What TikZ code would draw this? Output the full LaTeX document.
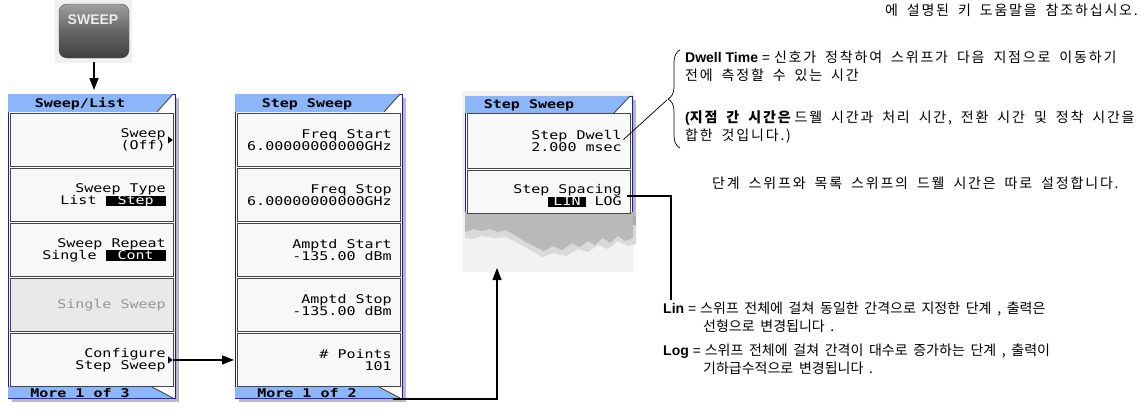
\documentclass[tikz,border=0pt]{standalone}
\usepackage{fontspec}
\setmainfont{Liberation Sans}
\newfontfamily\kr[WordSpace=1.8]{Noto Sans CJK KR}
\newfontfamily\krw[WordSpace=1.8, LetterSpace=13]{Noto Sans CJK KR}
\newfontfamily\lcd[FakeStretch=1.25]{DejaVu Sans Mono}
\usetikzlibrary{arrows.meta, shadows, shapes.geometric, decorations.pathreplacing, positioning}

\definecolor{tabblue}{RGB}{140,182,250}
\definecolor{rimblue}{RGB}{20,20,235}
\definecolor{keyfill}{RGB}{248,248,248}
\definecolor{keyrim}{RGB}{70,70,70}
\definecolor{dimkey}{RGB}{233,233,233}
\definecolor{dimtext}{RGB}{150,150,150}

\newcommand\hilite[2][5pt]{{\setlength\fboxsep{0pt}\colorbox{black}{\rule[-1.5pt]{0pt}{10.5pt}\hspace{#1}\smash{\textcolor{white}{#2}}\hspace{#1}}}}

\begin{document}
\begin{tikzpicture}[x=1pt, y=-1pt,
	panel/.style={draw=rimblue, fill=white, line width=0.8pt, anchor=north west, inner sep=0pt, minimum width=167pt,
		drop shadow={shadow xshift=4pt, shadow yshift=-4pt, fill=black!45, opacity=0.6}},
	softkey/.style={draw=keyrim, fill=keyfill, line width=0.9pt, anchor=north west, inner sep=0pt, minimum width=163pt},
	keytext/.style={anchor=east, align=right, inner sep=0pt, font=\lcd\fontsize{12}{12}\selectfont},
	tabtext/.style={inner sep=0pt, font=\lcd\bfseries\fontsize{12}{12}\selectfont},
	keymark/.style={isosceles triangle, fill=black, inner sep=0pt, minimum height=4.5pt, minimum width=7pt, isosceles triangle stretches},
	arr/.style={line width=1.4pt, -{Triangle[length=12pt,width=9pt]}},
	note/.style={anchor=west, align=left, inner sep=0pt, font=\fontsize{14}{18}\selectfont}]
	\useasboundingbox (0,0) rectangle (1148,413);

	% hard key
	\fill[gray!12] (55,0) rectangle (132,63);
	\node[draw=black!70, rounded corners=8pt, top color=gray!75, bottom color=black!75, middle color=black!60,
		minimum width=70pt, minimum height=54pt] (sweepbtn) at (94,31) {};
	\node[text=white!85!gray, font=\bfseries\fontsize{14}{14}\selectfont] (sweeplbl) at (93,20) {SWEEP};

	% softkey menus
	\foreach \px/\nm in {8/p1, 235/p2} {
		\node[panel, minimum height=304pt] (\nm) at (\px,94) {};
		\fill[tabblue] (\px,94) -- ++(165,0) -- ++(-16,18) -- (\px,112) -- cycle;
		\draw[keyrim, line width=0.9pt] (\px+149,112) -- ++(16,-18);
		\foreach \k/\y in {1/113, 2/168, 3/223, 4/278, 5/333}
			\node[softkey, minimum height=53pt] (\nm k\k) at (\px+2,\y) {};
		\fill[tabblue] (\px,387) -- ++(144,0) -- ++(21,11) -- (\px,398) -- cycle;
		\draw[keyrim, line width=0.9pt] (\px+144,387) -- ++(21,11);
	}
	\node[softkey, fill=dimkey, minimum height=53pt] at (10,278) {};

	\node[tabtext] (p1title) at (80,104) {Sweep/List};
	\node[tabtext] (p1more) at (80,393) {More 1 of 3};
	\node[keytext] (sweepkey) at ([xshift=-8pt]p1k1.east) {Sweep\\(Off)};
	\node[keymark] (sweepmark) at ([xshift=-4pt]p1k1.east) {};
	\node[keytext] (typekey) at ([xshift=-8pt]p1k2.east) {Sweep Type\\List \hilite[12pt]{Step}};
	\node[keytext] (repeatkey) at ([xshift=-8pt]p1k3.east) {Sweep Repeat\\Single \hilite[12pt]{Cont}};
	\node[keytext, text=dimtext] (singlekey) at ([xshift=-8pt]p1k4.east) {Single Sweep};
	\node[keytext] (cfgkey) at ([xshift=-8pt]p1k5.east) {Configure\\Step Sweep};
	\node[keymark] (cfgmark) at ([xshift=-4pt]p1k5.east) {};

	\node[tabtext] (p2title) at (307,104) {Step Sweep};
	\node[tabtext] (p2more) at (307,393) {More 1 of 2};
	\node[keytext] (fstartkey) at ([xshift=-9pt]p2k1.east) {Freq Start\\6.00000000000GHz};
	\node[keytext] (fstopkey) at ([xshift=-9pt]p2k2.east) {Freq Stop\\6.00000000000GHz};
	\node[keytext] (astartkey) at ([xshift=-9pt]p2k3.east) {Amptd Start\\-135.00 dBm};
	\node[keytext] (astopkey) at ([xshift=-9pt]p2k4.east) {Amptd Stop\\-135.00 dBm};
	\node[keytext] (pointskey) at ([xshift=-9pt]p2k5.east) {\# Points\\101};

	% torn step sweep menu
	\fill[gray!10] (462,91) rectangle (634,272);
	\fill[gray!30] (465,216) -- (636,216) -- (636,244) -- (628,246) -- (618,241) -- (608,249) -- (598,245) -- (588,252)
		-- (578,249) -- (566,256) -- (554,253) -- (542,257) -- (530,250) -- (518,243) -- (506,237) -- (494,238)
		-- (482,236) -- (472,239) -- (465,238) -- cycle;
	\node[panel, minimum height=125pt] (p3) at (465,96) {};
	\fill[gray!55] (465,212) -- (633,212) -- (633,238) -- (625,241) -- (618,236) -- (610,243) -- (603,238) -- (595,245)
		-- (588,241) -- (580,247) -- (572,243) -- (562,250) -- (553,246) -- (544,251) -- (536,247) -- (526,242)
		-- (516,236) -- (506,230) -- (498,232) -- (490,229) -- (482,231) -- (474,229) -- (465,232) -- cycle;
	\fill[tabblue] (465,96) -- ++(165,0) -- ++(-16,17) -- (465,113) -- cycle;
	\draw[keyrim, line width=0.9pt] (614,113) -- ++(16,-17);
	\node[softkey, minimum height=55pt] (p3k1) at (467,113) {};
	\node[softkey, minimum height=43pt] (p3k2) at (467,170) {};
	\node[tabtext] (p3title) at (529,105) {Step Sweep};
	\node[keytext] (dwellkey) at ([xshift=-9pt]p3k1.east) {Step Dwell\\2.000 msec};
	\node[keytext] (spacingkey) at ([xshift=-9pt, yshift=-4pt]p3k2.east) {Step Spacing\\\hilite{LIN} LOG};

	% notes
	\node[note, anchor=base east] (helpnote) at (1138,15) {\krw 에 설명된 키 도움말을 참조하십시오.};
	\node[note] (dwell) at (685,66) {{\bfseries Dwell Time} = {\krw 신호가 정착하여 스위프가 다음 지점으로 이동하기}\\{\krw 전에 측정할 수 있는 시간}};
	\node[note] (pointtime) at (685,127) {{\bfseries(\krw 지점 간 시간은} {\krw 드웰 시간과 처리 시간, 전환 시간 및 정착 시간을}\\{\krw 합한 것입니다.)}};
	\node[note] (sepnote) at (712,183) {\krw 단계 스위프와 목록 스위프의 드웰 시간은 따로 설정합니다.};
	\node[note] (lin) at (663,317) {{\bfseries Lin} = {\kr 스위프 전체에 걸쳐 동일한 간격으로 지정한 단계 , 출력은}\\\hspace*{40pt}{\kr 선형으로 변경됩니다 .}};
	\node[note] (log) at (663,359) {{\bfseries Log} = {\kr 스위프 전체에 걸쳐 간격이 대수로 증가하는 단계 , 출력이}\\\hspace*{40pt}{\kr 기하급수적으로 변경됩니다 .}};

	\coordinate (bracetip) at (667,100);
	\coordinate (tornfoot) at (497,268);
	\draw[decorate, decoration={brace, amplitude=12pt}, line width=0.7pt] (680,148) -- (680,50);

	% connectors
	\draw[arr, shorten <=4pt, shorten >=4pt] (sweepbtn.south) -- (sweepbtn.south |- p1.north);
	\draw[arr, shorten >=1pt] (cfgmark.east) -- (cfgmark.east -| p2.west);
	\draw[arr] ([xshift=-10pt]p2.south east) -| (tornfoot);
	\draw[line width=1.4pt] ([xshift=5pt]spacingkey.east) -| ([xshift=8pt, yshift=1pt]lin.north west);
	\draw[line width=0.7pt, shorten <=2pt] (dwellkey.east) -- (bracetip);
\end{tikzpicture}
\end{document}
